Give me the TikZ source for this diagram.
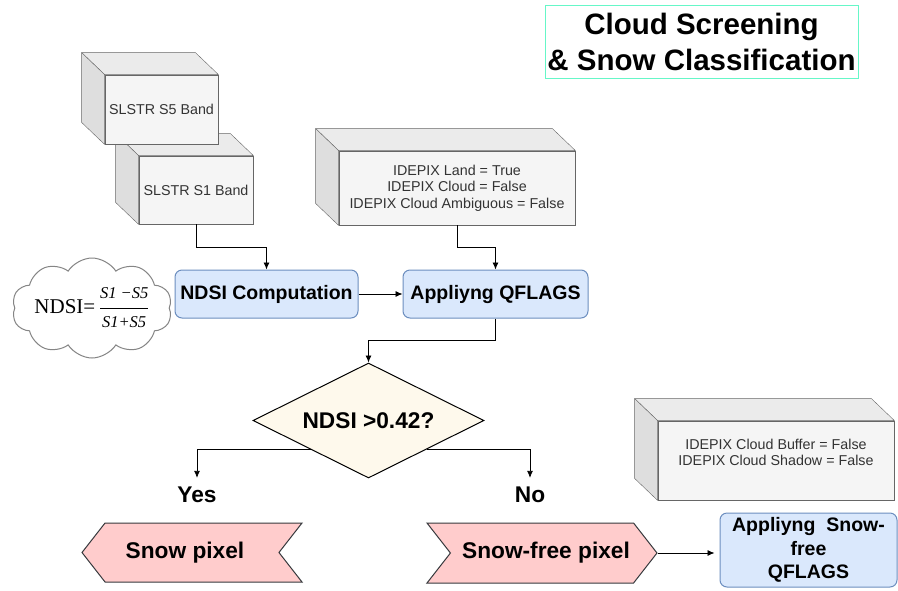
\documentclass[tikz,border=0pt]{standalone}
\usepackage{fontspec}
\setmainfont{Liberation Sans}
\newfontfamily\tnr{Liberation Serif}
\usetikzlibrary{arrows.meta,shapes.geometric,shapes.symbols,calc}
\definecolor{boxfront}{HTML}{F5F5F5}
\definecolor{boxtop}{HTML}{EBEBEB}
\definecolor{boxside}{HTML}{DEDEDE}
\definecolor{boxline}{HTML}{666666}
\definecolor{procfill}{HTML}{DAE8FC}
\definecolor{procline}{HTML}{6C8EBF}
\definecolor{decfill}{HTML}{FEF9EC}
\definecolor{pinkfill}{HTML}{FFCCCC}
\definecolor{pinkline}{HTML}{36393D}
\definecolor{titleline}{HTML}{66F7C8}
\definecolor{txtgray}{HTML}{333333}
\newcommand{\cubefaces}[1]{%
  \filldraw[draw=boxline, fill=boxtop, line join=round] (#1.north west) -- ++(-23,-22) -- ($(#1.north east)+(-23,-22)$) -- (#1.north east) -- cycle;
  \filldraw[draw=boxline, fill=boxside, line join=round] (#1.north west) -- ++(-23,-22) -- ($(#1.south west)+(-23,-22)$) -- (#1.south west) -- cycle;}
\newcommand{\zerobox}[2]{\makebox[0pt]{\raisebox{#1}[0pt][0pt]{#2}}}
\begin{document}
\begin{tikzpicture}[x=1pt,y=-1pt,
  front/.style={draw=boxline, fill=boxfront, inner sep=0pt, align=center, text=txtgray, line width=0.8pt, font=\fontsize{14.3}{16.5}\selectfont},
  proc/.style={draw=procline, fill=procfill, rounded corners=7pt, line width=1pt, inner sep=0pt, align=center, font=\bfseries\fontsize{19.5}{23.5}\selectfont},
  arr/.style={-{Latex[length=7pt,width=6pt]}, line width=0.8pt},
  pink/.style={draw=pinkline, fill=pinkfill, line width=1pt, signal, signal pointer angle=104, inner sep=0pt, font=\bfseries\fontsize{22.7}{26}\selectfont},
  lbl/.style={inner sep=0pt, font=\bfseries\fontsize{22.7}{26}\selectfont}]
\useasboundingbox (0,0) rectangle (898,590);
\fill[white] (0,0) rectangle (898,590);

% title
\node[draw=titleline, line width=0.8pt, minimum width=313, minimum height=73, inner sep=0pt, align=center, font=\bfseries\fontsize{29.5}{36}\selectfont] (title) at (701.5,41.5) {Cloud Screening\\\& Snow Classification};

% 3D boxes
\node[front, minimum width=114, minimum height=68] (s1) at (196,190) {SLSTR S1 Band};
\cubefaces{s1}
\node[front, minimum width=113, minimum height=69] (s5) at (161.5,109.5) {SLSTR S5 Band};
\cubefaces{s5}
\node[front, minimum width=236, minimum height=74] (idp1) at (457,188) {IDEPIX Land = True\\IDEPIX Cloud = False\\IDEPIX Cloud Ambiguous = False};
\cubefaces{idp1}
\node[front, minimum width=236, minimum height=79] (idp2) at (776,460.5) {IDEPIX Cloud Buffer = False\\IDEPIX Cloud Shadow = False\\[0pt]\mbox{}};
\cubefaces{idp2}

% cloud
\node[cloud, cloud puffs=10, cloud puff arc=115, draw=boxline!80, fill=white, line width=1pt, minimum width=160, minimum height=100, inner sep=0pt, aspect=1.6, text height=0pt, text depth=0pt] (cl) at (92,308)
 {\zerobox{-5pt}{\tnr\fontsize{21}{24}\selectfont NDSI=\,$\displaystyle\frac{\hbox{\tnr\itshape\fontsize{16.5}{18}\selectfont S1 −S5}}{\hbox{\tnr\itshape\fontsize{16.5}{18}\selectfont S1+S5}}$}};

% process boxes
\node[proc, minimum width=183, minimum height=48] (ndsi) at (266.5,294) {NDSI Computation};
\node[proc, minimum width=185, minimum height=48] (qf) at (495.5,294) {Appliyng QFLAGS};
\node[proc, minimum width=177, minimum height=74] (qf2) at (808.5,550) {Appliyng\ \ Snow-\\free\\QFLAGS};

% decision
\node[diamond, draw=black, fill=decfill, line width=1pt, minimum width=231, minimum height=115, inner sep=0pt, text height=0pt, text depth=0pt, font=\bfseries\fontsize{22.7}{26}\selectfont] (dec) at (368.5,420.5) {\zerobox{-8pt}{NDSI >0.42?}};

% labels
\node[lbl] (yes) at (197,495) {Yes};
\node[lbl] (no) at (530,495) {No};

% pink shapes
\node[pink, signal to=west, signal from=east, minimum width=220, minimum height=59] (snow) at (192,552.5) {\hspace*{-14pt}Snow pixel};
\node[pink, signal to=east, signal from=west, minimum width=230, minimum height=60] (free) at (542,553) {\hspace*{8pt}Snow-free pixel};

% connectors
\draw[arr] (s1.south) -- ++(0,23) -| (ndsi.north);
\draw[arr] (idp1.south) -- ++(0,22) -| (qf.north);
\draw[arr] (ndsi.east) -- (qf.west);
\draw[arr] (qf.south) -- ++(0,22) -| (dec.north);
\draw[arr, shorten >=9pt] ($(dec.west)!0.5!(dec.south)$) -| (yes.north);
\draw[arr, shorten >=9pt] ($(dec.east)!0.5!(dec.south)$) -| (no.north);
\draw[arr, shorten >=5pt] (free.east) -- (free.east -| qf2.west);
\end{tikzpicture}
\end{document}
